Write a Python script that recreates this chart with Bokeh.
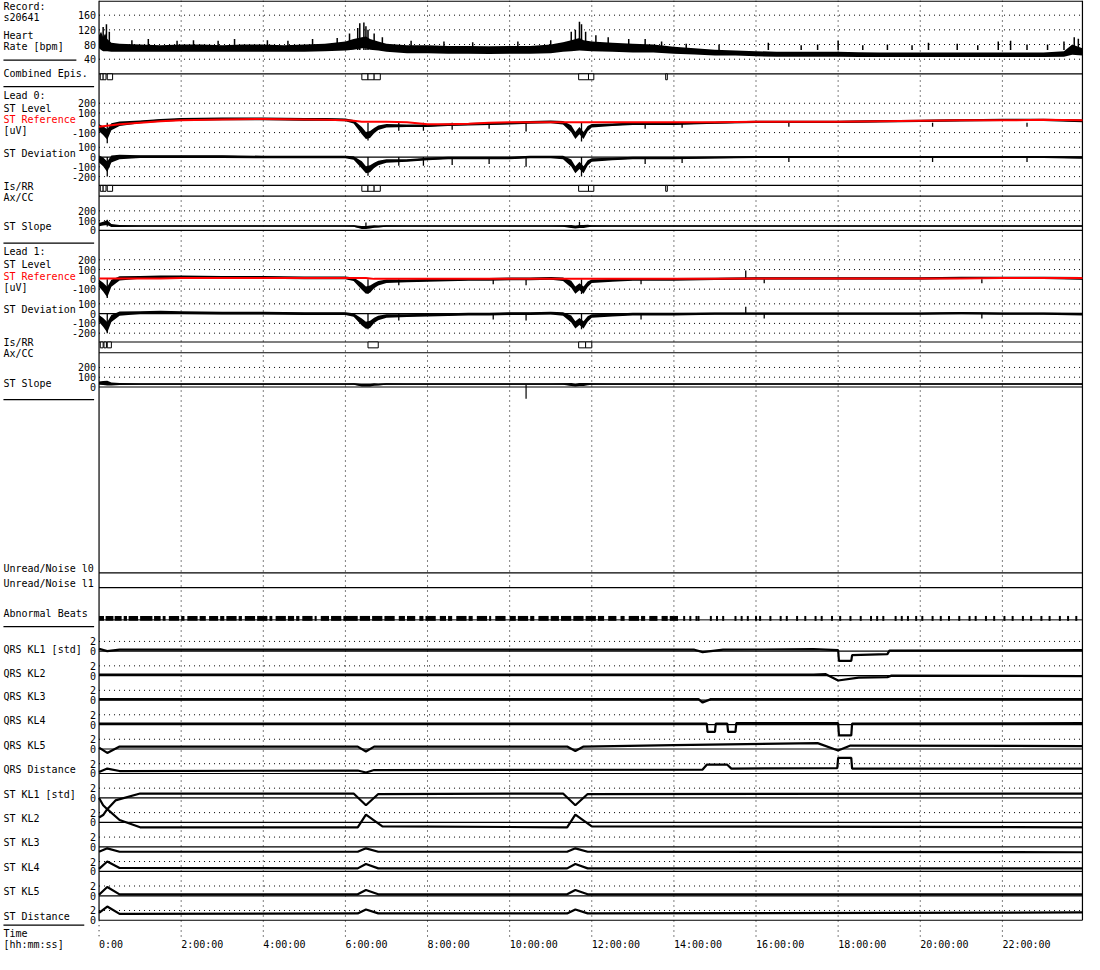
import numpy as np
from bokeh.plotting import figure
from bokeh.models import Range1d
from bokeh.embed import file_html
from bokeh.resources import INLINE
from bokeh.core.properties import value

# ---------------- data ----------------
time_ticks = [0, 2, 4, 6, 8, 10, 12, 14, 16, 18, 20, 22]
time_labels = ["0:00", "2:00:00", "4:00:00", "6:00:00", "8:00:00", "10:00:00",
               "12:00:00", "14:00:00", "16:00:00", "18:00:00", "20:00:00", "22:00:00"]
record_end = 23.95

# heart rate [bpm]: noise envelope + isolated peaks
hr_t = [0, 0.05, 0.1, 0.15, 0.2, 0.3, 0.5, 1, 1.5, 2, 2.5, 3, 3.5, 4, 4.5, 5, 5.5, 6, 6.2, 6.4,
        6.5, 6.6, 6.8, 7, 7.5, 8, 8.5, 9, 9.5, 10, 10.5, 11, 11.3, 11.5, 11.7, 11.8, 12, 12.5, 13, 13.5,
        14, 14.5, 15, 15.5, 16, 16.5, 17, 17.5, 18, 18.5, 19, 19.5, 20, 20.5, 21, 21.5, 22, 22.5, 23, 23.5,
        23.7, 23.95]
hr_lo = [70, 65, 62, 62, 62, 60, 60, 60, 60, 60, 60, 60, 60, 60, 60, 60, 62, 64, 66, 70,
         70, 66, 64, 60, 56, 56, 55, 55, 54, 55, 55, 56, 60, 62, 64, 63, 62, 60, 58, 58,
         55, 53, 50, 50, 48, 47, 47, 47, 47, 46, 46, 46, 46, 46, 46, 46, 46, 46, 46, 47,
         52, 50]
hr_hi = [105, 115, 100, 110, 95, 85, 82, 80, 78, 80, 80, 78, 80, 80, 78, 80, 82, 88, 95, 100,
         102, 95, 88, 82, 78, 78, 76, 76, 75, 76, 76, 80, 86, 92, 98, 92, 88, 85, 82, 80,
         74, 70, 66, 64, 62, 60, 60, 60, 60, 59, 58, 58, 58, 58, 58, 58, 58, 58, 58, 62,
         80, 70]
hr_spike_t = [0.1, 0.18, 0.25, 0.8, 1.2, 1.9, 2.3, 2.9, 3.3, 4.1, 4.6, 5.2, 5.8, 6.1, 6.3, 6.35,
              6.45, 6.5, 6.55, 6.7, 6.9, 7.6, 8.4, 9.1, 10.2, 11.0, 11.5, 11.6, 11.7, 11.75, 11.85,
              12.1, 12.4, 12.9, 13.3, 13.7, 14.3, 15.1, 16.3, 17.1, 17.5, 18.0, 18.6, 19.2, 19.8,
              20.2, 20.9, 21.4, 21.9, 22.2, 22.6, 23.1, 23.5, 23.75, 23.85]
hr_spike_v = [128, 135, 115, 92, 95, 90, 92, 90, 95, 92, 90, 95, 98, 110, 125, 138,
              140, 130, 120, 110, 100, 90, 88, 86, 88, 92, 115, 120, 142, 135, 115,
              105, 100, 95, 95, 88, 82, 80, 85, 78, 80, 90, 78, 80, 78,
              85, 82, 78, 88, 90, 80, 80, 88, 100, 96]

# episodes (start, end) [h]
comb_start = [0.03, 0.1, 0.2, 6.4, 6.55, 6.7, 11.68, 11.92, 13.8]
comb_end = [0.1, 0.17, 0.33, 6.55, 6.7, 6.85, 11.92, 12.05, 13.84]
l0_ep_start = [0.03, 0.1, 0.2, 6.4, 6.55, 6.7, 11.68, 11.92, 13.8]
l0_ep_end = [0.1, 0.17, 0.33, 6.55, 6.7, 6.85, 11.92, 12.05, 13.84]
l1_ep_start = [0.03, 0.12, 0.2, 6.55, 11.68, 11.85]
l1_ep_end = [0.1, 0.18, 0.3, 6.8, 11.85, 12.0]

# ST measurements [uV] on a common time grid [h]
st_t = [0, 0.1, 0.2, 0.3, 0.5, 1, 1.5, 2, 3, 4, 5, 5.5, 6, 6.2, 6.4, 6.5, 6.6, 6.7, 6.8, 7,
        7.5, 8, 8.5, 9, 9.5, 10, 10.5, 11, 11.3, 11.5, 11.6, 11.7, 11.8, 11.9, 12, 12.5, 13, 13.5, 14, 15,
        16, 17, 18, 19, 20, 21, 22, 23, 23.95]
st_noise = [40, 50, 60, 40, 25, 15, 15, 15, 15, 15, 15, 15, 15, 20, 40, 40, 40, 30, 25, 20,
            15, 15, 15, 15, 15, 15, 15, 15, 20, 40, 40, 40, 40, 30, 20, 15, 15, 15, 15, 12,
            12, 12, 12, 12, 12, 12, 12, 12, 15]
l0_level = [-50, -80, -120, -40, -10, 10, 25, 35, 40, 40, 35, 35, 30, 10, -80, -130, -120, -80, -50, -30,
            -30, -30, -20, -15, -10, -5, 5, 10, 0, -60, -130, -80, -130, -60, -30, -20, -10, -10, -10, 0,
            10, 10, 10, 15, 20, 25, 30, 30, 20]
l0_ref = [-40, -35, -30, -25, -15, 0, 15, 25, 35, 40, 35, 30, 25, 20, 10, 10, 10, 10, 10, 10,
          5, -15, -15, -10, 0, 5, 5, 5, 5, 5, 5, 5, 5, 5, 5, 5, 5, 5, 5, 5,
          10, 10, 10, 15, 20, 25, 25, 30, 25]
l0_dev = [-20, -50, -100, -20, 0, 5, 5, 5, 5, 0, 0, 0, 0, -10, -80, -130, -120, -85, -60, -40,
          -35, -20, -10, -10, -10, -10, 0, 0, -5, -60, -130, -85, -130, -60, -30, -20, -10, -10, -10, -5,
          0, 0, 0, 0, 0, 0, 0, 0, -5]
l0_slope = [60, 70, 80, 50, 45, 45, 45, 45, 45, 45, 45, 45, 45, 45, 30, 30, 35, 40, 40, 45,
            45, 45, 45, 45, 45, 45, 45, 45, 45, 40, 35, 40, 40, 45, 45, 45, 45, 45, 45, 45,
            45, 45, 45, 45, 45, 45, 45, 45, 45]
l1_level = [-40, -80, -130, -40, 10, 20, 25, 25, 20, 20, 15, 15, 15, 0, -70, -110, -100, -65, -40, -20,
            -15, -10, -5, 0, 0, 5, 5, 10, 0, -50, -110, -75, -110, -50, -20, -10, 0, 0, 0, 5,
            10, 10, 10, 10, 10, 15, 15, 15, 10]
l1_ref = [10, 10, 10, 10, 10, 10, 10, 15, 15, 15, 15, 15, 15, 15, 15, 15, 10, 5, 5, 5,
          5, 5, 5, 5, 5, 5, 5, 5, 5, 5, 5, 5, 5, 5, 5, 5, 5, 5, 5, 5,
          10, 10, 10, 10, 10, 10, 15, 15, 15]
l1_dev = [-50, -90, -140, -50, 0, 10, 15, 10, 5, 5, 0, 0, 0, -15, -85, -120, -110, -70, -45, -25,
          -20, -15, -10, -5, -5, 0, 0, 5, -5, -55, -115, -80, -115, -55, -25, -15, -5, -5, -5, 0,
          0, 0, 0, 0, 0, 5, 0, 0, -5]
l1_slope = [40, 40, 40, 30, 30, 30, 30, 30, 30, 30, 30, 30, 30, 30, 20, 20, 20, 25, 25, 30,
            30, 30, 30, 30, 30, 30, 30, 30, 30, 25, 20, 25, 25, 30, 30, 30, 30, 30, 30, 30,
            30, 30, 30, 30, 30, 30, 30, 30, 30]

# isolated ST spikes [h], [uV]
l0_spk_t = [0.2, 6.55, 7.3, 7.9, 8.6, 9.5, 10.4, 11.75, 13.3, 14.2, 16.8, 20.3, 22.6]
l0_lev_spk = [-210, -180, -80, -80, -70, -60, -90, -190, -60, -50, -40, -40, -40]
l0_dev_spk = [-200, -190, -90, -90, -80, -70, -100, -200, -70, -60, -50, -50, -50]
l0_slo_spk_t = [0.2, 6.5, 11.7]
l0_slo_spk = [110, 80, 90]
l1_spk_t = [0.2, 6.55, 7.3, 9.6, 10.4, 11.75, 13.2, 15.75, 16.2, 21.5]
l1_lev_spk = [-190, -150, -60, -50, -60, -150, -50, 90, -40, -40]
l1_dev_spk = [-200, -160, -70, -60, -70, -160, -60, 70, -50, -50]
l1_slope_spike_t = [10.4]
l1_slope_spike_v = [-120]

# abnormal beats: dense runs (start, end) and single beats [h]
ab_run_start = [0.0, 0.16, 0.38, 0.6, 0.72, 1.0, 1.34, 1.55, 1.7, 2.0, 2.15, 2.45, 2.68, 2.95, 3.1,
                3.4, 3.55, 3.85, 4.15, 4.3, 4.6, 4.8, 4.95, 5.25, 5.4, 5.65, 5.95, 6.35, 6.65, 6.95,
                7.3, 7.5, 7.8, 7.95, 8.3, 8.5, 8.7, 9.0, 9.2, 9.5, 9.65, 10.0, 10.2, 10.5, 10.7,
                11.0, 11.25, 11.55, 11.85, 12.15, 12.4, 12.7, 12.9, 13.2, 13.4, 13.7, 13.9]
ab_run_end = [0.12, 0.35, 0.55, 0.68, 0.95, 1.3, 1.5, 1.62, 1.95, 2.08, 2.4, 2.6, 2.9, 3.05, 3.35,
              3.48, 3.8, 4.1, 4.22, 4.55, 4.75, 4.88, 5.2, 5.3, 5.6, 5.9, 6.3, 6.6, 6.9, 7.2,
              7.45, 7.7, 7.9, 8.2, 8.45, 8.6, 8.95, 9.1, 9.45, 9.55, 9.9, 10.15, 10.45, 10.6, 10.95,
              11.2, 11.5, 11.8, 12.1, 12.3, 12.6, 12.8, 13.15, 13.3, 13.6, 13.85, 14.1]
ab_single = [14.25, 14.4, 14.55, 14.6, 14.9, 15.05, 15.2, 15.5, 15.65, 15.8, 16.0, 16.1, 16.35, 16.6,
             16.75, 17.0, 17.2, 17.45, 17.6, 17.85, 18.05, 18.3, 18.55, 18.8, 18.95, 19.1, 19.4,
             19.55, 19.7, 19.9, 20.05, 20.3, 20.5, 20.7, 20.95, 21.2, 21.35, 21.6, 21.8, 22.05,
             22.25, 22.5, 22.7, 22.95, 23.15, 23.4, 23.6, 23.8]

# KL trends [std]
qrs_kl1_t = [0, 0.2, 0.5, 14.5, 14.7, 15.2, 17.4, 17.7, 18.0, 18.02, 18.32, 18.34, 19.2, 19.25, 23.95]
qrs_kl1_v = [0.5, 0.0, 0.3, 0.3, -0.2, 0.3, 0.4, 0.3, 0.2, -2.0, -2.0, -0.8, -0.6, 0.1, 0.2]
qrs_kl2_t = [0, 17.4, 17.7, 18.0, 18.5, 19.2, 19.3, 23.95]
qrs_kl2_v = [0.2, 0.2, 0.3, -1.0, -0.4, -0.3, 0.0, -0.1]
qrs_kl3_t = [0, 14.6, 14.7, 14.9, 23.95]
qrs_kl3_v = [0.2, 0.2, -0.5, 0.2, 0.2]
qrs_kl4_t = [0, 14.8, 14.82, 15.0, 15.02, 15.3, 15.32, 15.5, 15.52, 18.0, 18.02, 18.32, 18.34, 23.95]
qrs_kl4_v = [0.2, 0.2, -1.5, -1.5, 0.2, 0.2, -1.5, -1.5, 0.3, 0.3, -2.2, -2.2, 0.2, 0.3]
qrs_kl5_t = [0, 0.2, 0.5, 6.3, 6.5, 6.7, 11.4, 11.6, 11.8, 14.0, 17.5, 18.0, 18.3, 23.95]
qrs_kl5_v = [0.3, -0.8, 0.5, 0.5, -0.5, 0.5, 0.5, -0.4, 0.5, 0.8, 1.2, -0.3, 0.7, 0.6]
qrs_dist_t = [0, 0.2, 0.5, 6.3, 6.5, 6.7, 14.7, 14.8, 15.3, 15.4, 17.98, 18.0, 18.32, 18.34, 23.95]
qrs_dist_v = [0.3, 1.0, 0.5, 0.6, 0.2, 0.7, 0.8, 1.8, 1.8, 1.0, 1.1, 3.2, 3.2, 1.0, 1.0]
st_kl1_t = [0, 0.1, 0.2, 0.4, 1.0, 6.2, 6.5, 6.8, 11.3, 11.6, 11.9, 23.95]
st_kl1_v = [0.0, -1.5, -2.3, -0.5, 0.9, 0.9, -1.5, 0.8, 0.9, -1.5, 0.8, 0.9]
st_kl2_t = [0, 0.1, 0.2, 0.5, 1.0, 6.3, 6.5, 6.9, 11.4, 11.6, 12.0, 23.95]
st_kl2_v = [1.0, 1.5, 2.7, 0.5, -1.0, -1.0, 1.6, -0.8, -1.0, 1.6, -0.8, -1.0]
st_kl3_t = [0, 0.2, 0.5, 6.3, 6.5, 6.8, 11.4, 11.6, 11.9, 23.95]
st_kl3_v = [-1.0, -0.3, -1.0, -1.0, -0.3, -1.0, -1.0, -0.3, -1.0, -1.1]
st_kl4_t = [0, 0.2, 0.5, 6.3, 6.5, 6.8, 11.4, 11.6, 11.9, 23.95]
st_kl4_v = [0.5, 2.0, 0.7, 0.6, 1.5, 0.6, 0.6, 1.5, 0.6, 0.6]
st_kl5_t = [0, 0.2, 0.5, 6.3, 6.5, 6.8, 11.4, 11.6, 11.9, 23.95]
st_kl5_v = [0.2, 1.8, 0.3, 0.3, 1.2, 0.3, 0.3, 1.2, 0.3, 0.3]
st_dist_t = [0, 0.2, 0.5, 6.3, 6.5, 6.8, 11.4, 11.6, 11.9, 23.95]
st_dist_v = [1.5, 2.8, 1.3, 1.4, 2.2, 1.4, 1.4, 2.2, 1.4, 1.6]

for a, b in [(hr_t, hr_lo), (hr_t, hr_hi), (hr_spike_t, hr_spike_v), (st_t, st_noise),
             (st_t, l0_level), (st_t, l0_ref), (st_t, l0_dev), (st_t, l0_slope), (st_t, l1_level),
             (st_t, l1_ref), (st_t, l1_dev), (st_t, l1_slope), (l0_spk_t, l0_lev_spk),
             (l0_spk_t, l0_dev_spk), (l1_spk_t, l1_lev_spk), (l1_spk_t, l1_dev_spk),
             (ab_run_start, ab_run_end), (qrs_kl1_t, qrs_kl1_v), (qrs_kl2_t, qrs_kl2_v),
             (qrs_kl3_t, qrs_kl3_v), (qrs_kl4_t, qrs_kl4_v), (qrs_kl5_t, qrs_kl5_v),
             (qrs_dist_t, qrs_dist_v), (st_kl1_t, st_kl1_v), (st_kl2_t, st_kl2_v),
             (st_kl3_t, st_kl3_v), (st_kl4_t, st_kl4_v), (st_kl5_t, st_kl5_v), (st_dist_t, st_dist_v)]:
    assert len(a) == len(b), (len(a), len(b))

# ---------------- layout (reference pixel space) ----------------
REF_W, REF_H = 1100, 975
X0, PXH = 100.0, 250.0 / 6.0
FONT = value("DejaVu Sans Mono")
FS = "10px"

p = figure(width=1084, height=954, output_backend="svg", toolbar_location=None,
           x_range=Range1d(-X0 / PXH, (REF_W - X0) / PXH), y_range=Range1d(REF_H, 0),
           x_axis_location=None, y_axis_location=None, min_border=0)
p.outline_line_color = None
p.grid.visible = False
p.background_fill_color = "white"
p.extra_x_ranges = {"px": Range1d(0, REF_W)}


def add_range(name, va, ya, vb, yb):
    k = (va - vb) / (yb - ya)
    p.extra_y_ranges[name] = Range1d(vb - (REF_H - yb) * k, vb + yb * k)


# panel scales: value -> reference pixel row
add_range("hr", 160, 15, 40, 60)
add_range("l0lev", 200, 105, -100, 135)
add_range("l0dev", 100, 150, -200, 180)
add_range("l0slo", 200, 215, 0, 235)
add_range("l1lev", 200, 265, -100, 295)
add_range("l1dev", 100, 310, -200, 340)
add_range("l1slo", 200, 375, 0, 395)
kl_names = ["qkl1", "qkl2", "qkl3", "qkl4", "qkl5", "qdist", "skl1", "skl2", "skl3", "skl4", "skl5", "sdist"]
for i, n in enumerate(kl_names):
    add_range(n, 2, 655 + 25 * i, 0, 665 + 25 * i)

BLACK = "black"
DOT = "1 4"

# vertical time grid
gx = time_ticks[1:]
p.segment(x0=gx, y0=[0] * len(gx), x1=gx, y1=[957] * len(gx), line_color=BLACK, line_dash=DOT, line_width=1)
p.segment(x0=[0], y0=[940], x1=[0], y1=[957], line_color=BLACK, line_dash=DOT)
p.segment(x0=[0], y0=[0], x1=[0], y1=[940], line_color=BLACK, line_width=1.2)
p.segment(x0=[record_end], y0=[0], x1=[record_end], y1=[940], line_color=BLACK, line_width=1.2)
p.segment(x0=[0], y0=[0.6], x1=[record_end], y1=[0.6], line_color=BLACK, line_width=1.2)


def hgrid(rng, vals, solid=None):
    n = len(vals)
    p.segment(x0=[0] * n, y0=vals, x1=[record_end] * n, y1=vals, line_color=BLACK,
              line_dash=DOT, y_range_name=rng)
    if solid is not None:
        p.segment(x0=[0], y0=[solid], x1=[record_end], y1=[solid], line_color=BLACK,
                  line_width=1.2, y_range_name=rng)


def ticks(rng, vals, labels):
    p.text(x=[97] * len(vals), y=vals, text=labels, x_range_name="px", y_range_name=rng,
           text_font=FONT, text_font_size=FS, text_align="right", text_baseline="middle",
           text_color=BLACK)


def spikes(ts, vs, base, rng, width=1.3):
    p.segment(x0=ts, y0=[base] * len(ts), x1=ts, y1=vs, y_range_name=rng,
              line_color=BLACK, line_width=width)


# heart rate
hgrid("hr", [160, 120, 80, 40])
ticks("hr", [160, 120, 80, 40], ["160", "120", "80", "40"])
p.varea(x=hr_t, y1=hr_lo, y2=hr_hi, y_range_name="hr", fill_color=BLACK)
spikes(hr_spike_t, hr_spike_v, 65, "hr", 1.5)


def episodes(starts, ends, base):
    p.segment(x0=[0], y0=[base], x1=[record_end], y1=[base], line_color=BLACK, line_width=1.2)
    p.quad(left=starts, right=ends, top=[base] * len(starts), bottom=[base + 6] * len(starts),
           fill_color="white", line_color=BLACK, line_width=1)


episodes(comb_start, comb_end, 75)


def st_band(mid, rng, scale=1.0):
    nz = [s * scale for s in st_noise]
    p.varea(x=st_t, y1=[a - b for a, b in zip(mid, nz)], y2=[a + b for a, b in zip(mid, nz)],
            y_range_name=rng, fill_color=BLACK)
    p.line(st_t, mid, y_range_name=rng, line_color=BLACK, line_width=1.5)


# lead 0
hgrid("l0lev", [200, 100, -100])
ticks("l0lev", [200, 100, 0, -100], ["200", "100", "0", "-100"])
st_band(l0_level, "l0lev", 0.9)
spikes(l0_spk_t, l0_lev_spk, 0, "l0lev")
p.line(st_t, l0_ref, y_range_name="l0lev", line_color="#ff0000", line_width=2)
hgrid("l0dev", [100, -100, -200], solid=0)
ticks("l0dev", [100, 0, -100, -200], ["100", "0", "-100", "-200"])
st_band(l0_dev, "l0dev", 0.9)
spikes(l0_spk_t, l0_dev_spk, 0, "l0dev")
episodes(l0_ep_start, l0_ep_end, 189)
p.segment(x0=[0], y0=[200], x1=[record_end], y1=[200], line_color=BLACK, line_width=1.2)
hgrid("l0slo", [200, 100], solid=0)
ticks("l0slo", [200, 100, 0], ["200", "100", "0"])
st_band(l0_slope, "l0slo", 0.4)
spikes(l0_slo_spk_t, l0_slo_spk, 40, "l0slo")

# lead 1
hgrid("l1lev", [200, 100, -100])
ticks("l1lev", [200, 100, 0, -100], ["200", "100", "0", "-100"])
st_band(l1_level, "l1lev", 0.9)
spikes(l1_spk_t, l1_lev_spk, 0, "l1lev")
p.line(st_t, l1_ref, y_range_name="l1lev", line_color="#ff0000", line_width=2)
hgrid("l1dev", [100, -100, -200], solid=0)
ticks("l1dev", [100, 0, -100, -200], ["100", "0", "-100", "-200"])
st_band(l1_dev, "l1dev", 0.9)
spikes(l1_spk_t, l1_dev_spk, 0, "l1dev")
episodes(l1_ep_start, l1_ep_end, 349)
p.segment(x0=[0], y0=[360], x1=[record_end], y1=[360], line_color=BLACK, line_width=1.2)
hgrid("l1slo", [200, 100], solid=0)
ticks("l1slo", [200, 100, 0], ["200", "100", "0"])
st_band(l1_slope, "l1slo", 0.4)
spikes(l1_slope_spike_t, l1_slope_spike_v, 20, "l1slo", 1.2)

# unread / noise baselines
p.segment(x0=[0, 0], y0=[585, 600], x1=[record_end, record_end], y1=[585, 600],
          line_color=BLACK, line_width=1.2)

# abnormal beats
p.segment(x0=[0], y0=[633], x1=[record_end], y1=[633], line_color=BLACK, line_width=1)
p.quad(left=ab_run_start, right=ab_run_end, top=[629] * len(ab_run_start),
       bottom=[634] * len(ab_run_start), fill_color=BLACK, line_color=None)
p.segment(x0=ab_single, y0=[629] * len(ab_single), x1=ab_single, y1=[634] * len(ab_single),
          line_color=BLACK, line_width=2)

# KL trends
kl_series = [(qrs_kl1_t, qrs_kl1_v), (qrs_kl2_t, qrs_kl2_v), (qrs_kl3_t, qrs_kl3_v),
             (qrs_kl4_t, qrs_kl4_v), (qrs_kl5_t, qrs_kl5_v), (qrs_dist_t, qrs_dist_v),
             (st_kl1_t, st_kl1_v), (st_kl2_t, st_kl2_v), (st_kl3_t, st_kl3_v),
             (st_kl4_t, st_kl4_v), (st_kl5_t, st_kl5_v), (st_dist_t, st_dist_v)]
for n, (tt, vv) in zip(kl_names, kl_series):
    hgrid(n, [2], solid=0)
    ticks(n, [2, 0], ["2", "0"])
    p.line(tt, vv, y_range_name=n, line_color=BLACK, line_width=2.2)

# time labels
p.text(x=time_ticks, y=[965] * len(time_ticks), text=time_labels, text_font=FONT,
       text_font_size=FS, text_align="left", text_baseline="middle", text_color=BLACK)

# left-hand captions (reference pixel positions)
captions = [
    ("Record:", 6), ("s20641", 17), ("Heart", 36), ("Rate [bpm]", 47), ("Combined Epis.", 75),
    ("Lead 0:", 97), ("ST Level", 110), ("[uV]", 133), ("ST Deviation", 156), ("Is/RR", 190),
    ("Ax/CC", 201), ("ST Slope", 231),
    ("Lead 1:", 257), ("ST Level", 270), ("[uV]", 293), ("ST Deviation", 316), ("Is/RR", 350),
    ("Ax/CC", 361), ("ST Slope", 391),
    ("Unread/Noise l0", 581), ("Unread/Noise l1", 596), ("Abnormal Beats", 626),
    ("QRS KL1 [std]", 663), ("QRS KL2", 688), ("QRS KL3", 711), ("QRS KL4", 736), ("QRS KL5", 761),
    ("QRS Distance", 786), ("ST KL1 [std]", 811), ("ST KL2", 836), ("ST KL3", 861), ("ST KL4", 886),
    ("ST KL5", 911), ("ST Distance", 936), ("Time", 954), ("[hh:mm:ss]", 965),
]
p.text(x=[3] * len(captions), y=[c[1] for c in captions], text=[c[0] for c in captions],
       x_range_name="px", text_font=FONT, text_font_size=FS, text_align="left",
       text_baseline="middle", text_color=BLACK)
p.text(x=[3, 3], y=[122, 282], text=["ST Reference", "ST Reference"], x_range_name="px",
       text_font=FONT, text_font_size=FS, text_align="left", text_baseline="middle",
       text_color="#ff0000")

# separators in caption column
sep_y = [61, 88, 248, 408, 640, 945]
sep_x1 = [77, 95, 95, 95, 95, 85]
p.segment(x0=[3] * len(sep_y), y0=sep_y, x1=sep_x1, y1=sep_y, x_range_name="px",
          line_color=BLACK, line_width=1.2)

open("out.html", "w").write(file_html(p, INLINE))
